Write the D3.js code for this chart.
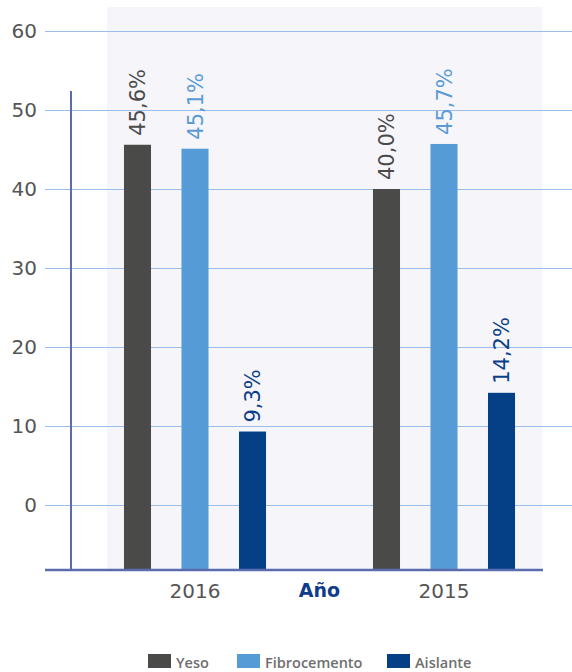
<!DOCTYPE html>
<html>
<head>
<meta charset="utf-8">
<script src="https://cdn.jsdelivr.net/npm/d3@7"></script>
<style>
  html, body { margin: 0; padding: 0; background: #ffffff; }
  svg { display: block; }
</style>
</head>
<body>
<svg id="chart" width="572" height="672"></svg>
<script>
// Share of each material per year (percent)
const years = ["2016", "2015"];
const series = ["Yeso", "Fibrocemento", "Aislante"];
const yeso = [45.6, 40.0];
const fibrocemento = [45.1, 45.7];
const aislante = [9.3, 14.2];
const yTicks = [0, 10, 20, 30, 40, 50, 60];
const axisTitle = "Año";

const values = { Yeso: yeso, Fibrocemento: fibrocemento, Aislante: aislante };
const barColor = { Yeso: "#4a4a48", Fibrocemento: "#559bd5", Aislante: "#053f85" };
const labelColor = { Yeso: "#4a4a4a", Fibrocemento: "#5b9bd5", Aislante: "#0b3f88" };

const svg = d3.select("#chart");

const baseY = 570;
const y = d3.scaleLinear().domain([0, 60]).range([505, 31]);
const x = d3.scaleBand().domain(years).range([70.5, 568.5]);
const xSub = d3.scaleBand().domain(series).range([0, x.bandwidth()])
  .paddingInner(0.53).paddingOuter(0.93);

// plot background panel
svg.append("rect")
  .attr("x", 107).attr("y", 7)
  .attr("width", 435).attr("height", baseY - 7)
  .attr("fill", "#f5f5fa");

// gridlines and value ticks
const yAxis = svg.append("g")
  .attr("transform", "translate(45,0)")
  .call(d3.axisLeft(y).tickValues(yTicks).tickSize(-(572 - 45)).tickPadding(8).tickFormat(d3.format("d")));
yAxis.select(".domain").remove();
yAxis.selectAll(".tick line").attr("stroke", "#9cbde8").attr("stroke-width", 1.2);
yAxis.selectAll(".tick text")
  .attr("fill", "#555555")
  .style("font-family", "DejaVu Sans, sans-serif")
  .style("font-size", "20px");

// bars
const groups = svg.selectAll("g.year")
  .data(years)
  .join("g")
  .attr("class", "year")
  .attr("transform", d => `translate(${x(d)},0)`);

groups.selectAll("rect")
  .data((yr, i) => series.map(s => ({ s, v: values[s][i] })))
  .join("rect")
  .attr("x", d => xSub(d.s))
  .attr("y", d => y(d.v))
  .attr("width", xSub.bandwidth())
  .attr("height", d => baseY - y(d.v))
  .attr("fill", d => barColor[d.s]);

// value labels, rotated
groups.selectAll("text.val")
  .data((yr, i) => series.map(s => ({ s, v: values[s][i] })))
  .join("text")
  .attr("class", "val")
  .attr("transform", d => `translate(${xSub(d.s) + xSub.bandwidth() / 2},${y(d.v) - 9}) rotate(-90)`)
  .attr("dy", "0.36em")
  .attr("text-anchor", "start")
  .attr("fill", d => labelColor[d.s])
  .style("font-family", "DejaVu Sans, sans-serif")
  .style("font-size", "21px")
  .text(d => d3.format(".1f")(d.v).replace(".", ",") + "%");

// axis lines
svg.append("line")
  .attr("x1", 71).attr("x2", 71).attr("y1", 91).attr("y2", baseY)
  .attr("stroke", "#5b6cae").attr("stroke-width", 2);
svg.append("line")
  .attr("x1", 45).attr("x2", 543).attr("y1", baseY).attr("y2", baseY)
  .attr("stroke", "#5b6cae").attr("stroke-width", 2.5);

// year labels
svg.selectAll("text.year")
  .data(years)
  .join("text")
  .attr("class", "year")
  .attr("x", d => x(d) + x.bandwidth() / 2)
  .attr("y", 598)
  .attr("text-anchor", "middle")
  .attr("fill", "#555555")
  .style("font-family", "DejaVu Sans, sans-serif")
  .style("font-size", "20px")
  .text(d => d);

svg.append("text")
  .attr("x", x.range()[0] + x.bandwidth())
  .attr("y", 597)
  .attr("text-anchor", "middle")
  .attr("fill", "#0f3b8c")
  .style("font-family", "DejaVu Sans, sans-serif")
  .style("font-weight", "bold")
  .style("font-size", "19px")
  .text(axisTitle);

// legend
const legendX = [148, 237, 387];
const legend = svg.selectAll("g.legend")
  .data(series)
  .join("g")
  .attr("class", "legend")
  .attr("transform", (d, i) => `translate(${legendX[i]},654)`);
legend.append("rect")
  .attr("width", 23).attr("height", 14)
  .attr("fill", d => barColor[d]);
legend.append("text")
  .attr("x", 28).attr("y", 14)
  .attr("fill", "#6e6e6e")
  .style("font-family", "Open Sans, sans-serif")
  .style("font-weight", "600")
  .style("font-size", "14.5px")
  .text(d => d);
</script>
</body>
</html>
